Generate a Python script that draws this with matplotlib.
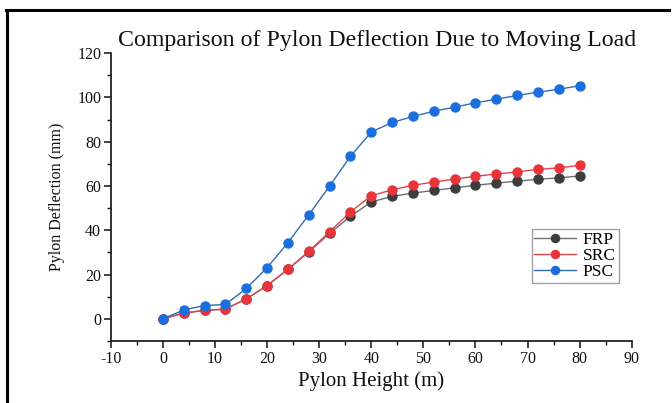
import matplotlib
matplotlib.use("Agg")
import matplotlib.pyplot as plt
from matplotlib.ticker import MultipleLocator
from matplotlib.lines import Line2D

plt.rcParams['font.family'] = ['Liberation Serif', 'DejaVu Serif']
plt.rcParams['axes.unicode_minus'] = False

# Pylon height (m) and deflection (mm) per pylon material
height = [0, 4, 8, 12, 16, 20, 24, 28, 32, 36, 40, 44, 48, 52, 56, 60, 64, 68, 72, 76, 80]
frp = [0, 2.6, 3.8, 4.4, 9.0, 15.0, 22.4, 30.2, 38.6, 46.3, 52.8, 55.3, 56.8, 58.0, 59.2,
       60.3, 61.3, 62.2, 63.0, 63.7, 64.5]
src = [0, 2.6, 3.8, 4.4, 9.0, 15.0, 22.4, 30.5, 39.3, 48.3, 55.6, 58.3, 60.3, 61.8, 63.1,
       64.4, 65.4, 66.4, 67.5, 68.2, 69.3]
psc = [0, 4.0, 6.0, 6.5, 13.7, 23.1, 34.4, 47.0, 60.0, 73.4, 84.4, 88.7, 91.4, 93.8, 95.6,
       97.6, 99.2, 100.9, 102.4, 103.7, 105.3]

series = [
    ("FRP", frp, "#6e6e6e", "#3d3d3d"),
    ("SRC", src, "#e0454b", "#e8353c"),
    ("PSC", psc, "#2f6db8", "#1a6fdc"),
]

fig = plt.figure(figsize=(6.72, 4.03), dpi=100)
ax = fig.add_axes([0.165, 0.154, 0.775, 0.714])

for label, vals, lc, mc in series:
    ax.plot(height, vals, color=lc, lw=1.0, marker='o', markersize=6.5,
            markerfacecolor=mc, markeredgecolor=mc, label=label)

ax.set_xlim(-10, 90)
ax.set_ylim(-10, 120)
ax.xaxis.set_major_locator(MultipleLocator(10))
ax.xaxis.set_minor_locator(MultipleLocator(5))
ax.yaxis.set_minor_locator(MultipleLocator(10))
ax.set_yticks([0, 20, 40, 60, 80, 100, 120])

for side in ("top", "right"):
    ax.spines[side].set_visible(False)
for side in ("left", "bottom"):
    ax.spines[side].set_linewidth(1.2)
    ax.spines[side].set_color("#111111")

ax.tick_params(which='major', direction='out', length=5, width=1.1, labelsize=11.5,
               colors="#111111", pad=2)
ax.tick_params(which='minor', direction='out', length=3, width=1.0, colors="#111111")

ax.set_title("Comparison of Pylon Deflection Due to Moving Load", fontsize=17.2, pad=5,
             color="#111111", x=0.512)
ax.set_xlabel("Pylon Height (m)", fontsize=15, color="#111111", labelpad=3)
ax.set_ylabel("Pylon Deflection (mm)", fontsize=11.5, color="#111111", labelpad=9)

leg = ax.legend(loc='upper left', bbox_to_anchor=(0.808, 0.389), borderaxespad=0,
                fontsize=12.5, frameon=True, fancybox=False, edgecolor="#8a8a8a",
                handlelength=2.4, handletextpad=0.4, labelspacing=0.0,
                borderpad=0.15, markerscale=0.9)
leg.get_frame().set_linewidth(1.0)

# Page frame: top and left border lines
fig.add_artist(Line2D([0.009, 0.995], [0.975, 0.975], transform=fig.transFigure,
                      color='black', lw=2.2))
fig.add_artist(Line2D([0.011, 0.011], [0.975, 0.005], transform=fig.transFigure,
                      color='black', lw=2.2))

fig.savefig("out.png", dpi=100)
